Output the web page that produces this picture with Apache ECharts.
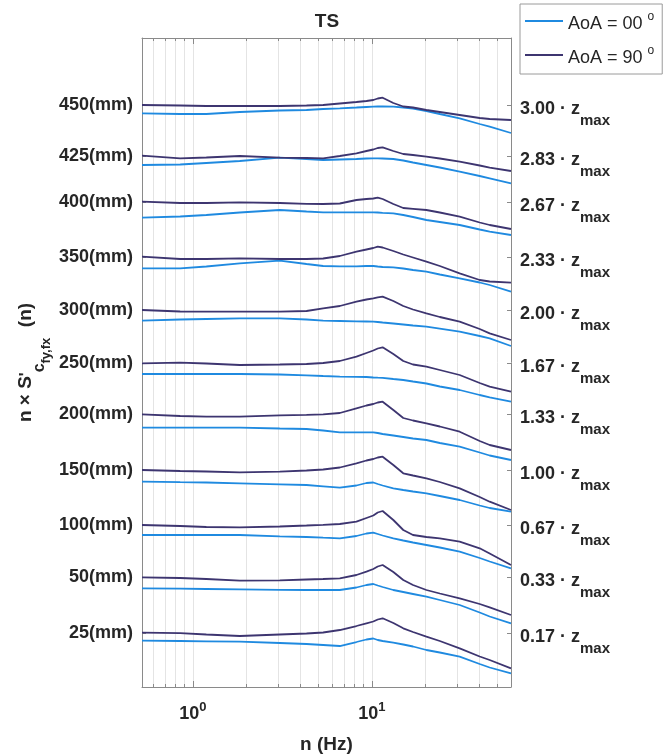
<!DOCTYPE html>
<html><head><meta charset="utf-8">
<script src="https://cdn.jsdelivr.net/npm/echarts@6/dist/echarts.min.js"></script>
<style>html,body{margin:0;padding:0;background:#fff}#c{width:664px;height:754px}</style>
</head><body><div id="c"></div>
<script>
// frequency samples (Hz)
const freqHz = [0.52, 0.85, 1.19, 1.83, 3.06, 4.32, 5.35, 6.63, 8.21, 9.34, 10.2, 10.8, 11.5, 13.2, 15.0, 17.0, 20.2, 24.0, 31.0, 40.1, 45.6, 60];
// heights, tick labels and offsets of each stacked spectrum
const heightLabels = ['450(mm)', '425(mm)', '400(mm)', '350(mm)', '300(mm)', '250(mm)', '200(mm)', '150(mm)', '100(mm)', '50(mm)', '25(mm)'];
const zRatioLabels = ['3.00', '2.83', '2.67', '2.33', '2.00', '1.67', '1.33', '1.00', '0.67', '0.33', '0.17'];
const offsets = [582, 531, 485, 430, 377, 324, 273, 217, 162, 110, 54];
const xMajorTicks = [1, 10];
const xMinorTicks = [0.6, 0.7, 0.8, 0.9, 2, 3, 4, 5, 6, 7, 8, 9, 20, 30, 40, 50];

// AoA = 00 (light blue) spectra, offset
const aoa00_h450 = [573.7, 573, 573, 575, 576.5, 577, 578, 578.7, 579.5, 580, 580.3, 580.5, 580.5, 580.3, 579.5, 578.5, 576, 573, 568.7, 563, 560.3, 554];
const aoa00_h425 = [522, 522.5, 524, 526, 529.3, 528, 527, 527.5, 528, 528.5, 528.7, 528.7, 528.5, 528, 526.5, 524.5, 522, 519.5, 515.3, 511, 508.7, 503.7];
const aoa00_h400 = [469.3, 470.5, 472, 474.5, 477, 475.5, 474.7, 474.7, 474.7, 474.7, 474.7, 474.5, 474.2, 473.7, 472, 470, 467, 465, 462, 457.5, 455.3, 452];
const aoa00_h350 = [418.7, 418.7, 420.5, 423.7, 426.3, 423, 421, 420.7, 420.7, 421, 421, 420.5, 420, 419.7, 418.5, 417, 415.3, 412.5, 408.7, 404.5, 402, 395.3];
const aoa00_h300 = [366.3, 367.5, 368, 368.7, 368.7, 367.5, 366.3, 366, 365.7, 365.5, 365.3, 365, 364.5, 363.5, 362.5, 361.5, 360.3, 358.3, 355.3, 351, 348.7, 341];
const aoa00_h250 = [313, 313, 313, 313, 312.5, 311.7, 311, 310.3, 310.2, 310, 309.5, 309.3, 309.2, 308, 307, 305.5, 303.5, 300.5, 297, 292, 289.7, 285.3];
const aoa00_h200 = [259.3, 259.3, 259.3, 259.3, 258.5, 258, 256.5, 254.7, 254.7, 254.7, 254.7, 254, 253, 251.5, 250, 248.5, 247, 244, 240.3, 234.5, 231.5, 227];
const aoa00_h150 = [205.3, 204.8, 204.5, 203.7, 202.7, 202, 200.7, 199.3, 201.5, 204, 204.5, 203, 201.5, 198.7, 197, 195.5, 193.7, 191, 187, 181.5, 179, 175.3];
const aoa00_h100 = [152, 152, 152, 152, 150.7, 150, 149.3, 148.7, 151, 153.5, 154.3, 153, 151.5, 148.7, 146.5, 144.5, 142, 139.5, 135.3, 129, 125.5, 118.7];
const aoa00_h50  = [98.7, 98.3, 98, 97.7, 97.2, 97, 97, 97, 99.5, 102, 103, 101.5, 100, 97, 95, 93, 90.3, 87, 82, 74.5, 70.5, 63.7];
const aoa00_h25  = [46.3, 46, 45.7, 45.3, 44, 43, 42, 41, 45, 47.5, 48.5, 47, 46, 44.3, 42.5, 40.5, 37, 34.5, 30.3, 23, 19.5, 13.7];

// AoA = 90 (dark) spectra, offset
const aoa90_h450 = [582, 581.5, 581, 581, 581, 581.5, 582, 583.5, 585, 586, 587, 588.5, 589.3, 584, 580.5, 579.5, 577, 575, 572, 569, 568, 567];
const aoa90_h425 = [531.3, 528.7, 529.5, 531, 529.3, 529, 528.7, 531, 533.7, 536, 537.5, 539, 539.7, 536, 533, 532, 530.3, 528.5, 525.3, 521.5, 519.3, 516];
const aoa90_h400 = [485.3, 484, 484, 484.7, 484, 483.2, 483, 483.5, 487, 488, 488.5, 489.3, 488, 483, 479, 478.2, 477, 474.5, 470.3, 464.5, 462, 458];
const aoa90_h350 = [430.3, 428, 428, 428.7, 428, 428, 428.5, 431, 435.3, 437.5, 439, 440.3, 439.5, 436, 432.5, 429.5, 425.3, 421, 413.7, 407, 405.5, 404.3];
const aoa90_h300 = [377, 375.5, 375.3, 375.3, 375.3, 376, 378.7, 381, 385.3, 387.5, 388.7, 389.7, 390.3, 386, 381, 377.5, 373.7, 370, 365.3, 358, 353.7, 347];
const aoa90_h250 = [323.7, 324.3, 323.5, 322, 322.5, 323, 324, 326, 330.3, 334, 336.5, 338.5, 339.7, 333, 326, 322.5, 320.3, 317, 312, 304, 300.3, 295.3];
const aoa90_h200 = [272.7, 271, 270.3, 270.3, 271.7, 272.2, 272.7, 274, 278.7, 281.5, 283, 284.5, 285.3, 277, 269, 266.5, 263.7, 260.5, 255.3, 246, 242, 237];
const aoa90_h150 = [217, 216, 215.5, 214.7, 215.3, 216.5, 217.5, 219.5, 223.7, 226.5, 228, 229.5, 230.3, 222, 213.7, 211.5, 208.7, 205, 198.7, 190, 185.3, 177];
const aoa90_h100 = [162, 161, 160, 159.7, 160.5, 161.5, 162.2, 163, 165.3, 169, 171.5, 174.5, 176, 167, 157, 152, 150, 148.7, 145.3, 138.7, 133.5, 122];
const aoa90_h50  = [109.7, 109, 108, 106.3, 106.7, 107.5, 108, 108.7, 112, 115.3, 118, 120.5, 122, 115, 107, 102, 97, 93.5, 88.7, 83, 79.7, 72];
const aoa90_h25  = [54.3, 53.8, 52.5, 51, 52.5, 53.5, 54.5, 57, 61, 63.7, 65.5, 67.5, 68.7, 64, 58.7, 55, 50.3, 46, 38.7, 30.5, 27, 18.7];

const aoa00 = [aoa00_h450, aoa00_h425, aoa00_h400, aoa00_h350, aoa00_h300, aoa00_h250, aoa00_h200, aoa00_h150, aoa00_h100, aoa00_h50, aoa00_h25];
const aoa90 = [aoa90_h450, aoa90_h425, aoa90_h400, aoa90_h350, aoa90_h300, aoa90_h250, aoa90_h200, aoa90_h150, aoa90_h100, aoa90_h50, aoa90_h25];

const NAME00 = 'AoA = 00', NAME90 = 'AoA = 90';
const C00 = '#1f8ae0', C90 = '#3d3570';
const TXT = '#262626';
const AX = '#8a8a8a';
const FONT = 'Liberation Sans';
const lg = v => Math.log10(v);
const xMin = lg(0.52), xMax = lg(60);

const series = [];
aoa00.forEach(arr => series.push({
  name: NAME00, type: 'line', symbol: 'none', showSymbol: false, z: 2,
  lineStyle: { color: C00, width: 1.8 }, itemStyle: { color: C00 },
  data: freqHz.map((f, i) => [lg(f), arr[i]])
}));
aoa90.forEach(arr => series.push({
  name: NAME90, type: 'line', symbol: 'none', showSymbol: false, z: 3,
  lineStyle: { color: C90, width: 1.8 }, itemStyle: { color: C90 },
  data: freqHz.map((f, i) => [lg(f), arr[i]])
}));

const baseX = {
  type: 'value', min: xMin, max: xMax, gridIndex: 0,
  axisLine: { show: false, onZero: false },
  axisLabel: { show: false }, splitLine: { show: false }, axisTick: { show: false }
};

const chart = echarts.init(document.getElementById('c'), null, { renderer: 'canvas' });
chart.setOption({
  animation: false,
  backgroundColor: '#fff',
  title: {
    text: 'TS', left: 327, top: 10, textAlign: 'center', padding: 0,
    textStyle: { fontFamily: FONT, fontWeight: 'bold', fontSize: 19, color: TXT, lineHeight: 24 }
  },
  legend: {
    data: [NAME00, NAME90], orient: 'vertical', left: 520, top: 4,
    padding: [7, 8, 7, 5], itemGap: 12, itemWidth: 38, itemHeight: 2,
    icon: 'rect',
    borderColor: '#9a9a9a', borderWidth: 1, backgroundColor: '#fff',
    selectedMode: false,
    formatter: n => '{n|' + n + ' }{s|o}',
    textStyle: {
      color: TXT, fontFamily: FONT, fontSize: 18,
      rich: {
        n: { fontFamily: FONT, fontSize: 18, lineHeight: 20, padding: [4, 0, 0, 0], verticalAlign: 'top', color: TXT },
        s: { fontFamily: FONT, fontSize: 12, lineHeight: 12, padding: [0, 0, 0, 0], verticalAlign: 'top', color: TXT }
      }
    }
  },
  grid: { left: 142, top: 38, width: 369, height: 649, containLabel: false, outerBoundsMode: 'none' },
  xAxis: [
    Object.assign({}, baseX, {
      position: 'bottom',
      axisLine: { show: true, onZero: false, lineStyle: { color: AX, width: 1 } },
      axisTick: { show: true, inside: true, length: 6, customValues: xMajorTicks.map(lg), lineStyle: { color: AX } },
      splitLine: { show: true, lineStyle: { color: '#e4e4e4', width: 1 } },
      axisLabel: {
        show: true, customValues: xMajorTicks.map(lg), margin: 12,
        formatter: v => '{b|10}{p|' + Math.round(v) + '}',
        rich: {
          b: { fontFamily: FONT, fontWeight: 'bold', fontSize: 18, lineHeight: 20, padding: [6, 0, 0, 0], verticalAlign: 'top', color: TXT },
          p: { fontFamily: FONT, fontWeight: 'bold', fontSize: 13, lineHeight: 14, padding: [2, 0, 0, 0], verticalAlign: 'top', color: TXT }
        }
      },
      name: 'n (Hz)', nameLocation: 'middle', nameGap: 47,
      nameTextStyle: { fontFamily: FONT, fontWeight: 'bold', fontSize: 19, color: TXT, lineHeight: 22 }
    }),
    Object.assign({}, baseX, {
      position: 'bottom',
      axisTick: { show: true, inside: true, length: 3, customValues: xMinorTicks.map(lg), lineStyle: { color: AX } },
      splitLine: { show: true, lineStyle: { color: '#e4e4e4', width: 1 } }
    }),
    Object.assign({}, baseX, {
      position: 'top',
      axisLine: { show: true, onZero: false, lineStyle: { color: AX, width: 1 } },
      axisTick: { show: true, inside: true, length: 3, customValues: xMinorTicks.map(lg), lineStyle: { color: AX } }
    }),
    Object.assign({}, baseX, {
      position: 'top',
      axisTick: { show: true, inside: true, length: 6, customValues: xMajorTicks.map(lg), lineStyle: { color: AX } }
    })
  ],
  yAxis: [
    {
      type: 'value', min: 0, max: 649, position: 'left',
      axisLine: { show: true, onZero: false, lineStyle: { color: AX, width: 1 } },
      axisTick: { show: true, inside: true, length: 4, customValues: offsets, lineStyle: { color: AX } },
      splitLine: { show: false },
      axisLabel: {
        show: true, customValues: offsets, margin: 9, padding: [5, 0, 0, 0],
        formatter: v => heightLabels[offsets.indexOf(v)],
        fontFamily: FONT, fontWeight: 'bold', fontSize: 18, color: TXT
      },
      name: "{b|n × S}{p|'}{c|c}{f|fy,fx}{b|  (n)}",
      nameLocation: 'middle', nameRotate: 90, nameGap: 105, nameMoveOverlap: false,
      nameTextStyle: {
        color: TXT,
        rich: {
          b: { fontFamily: FONT, fontWeight: 'bold', fontSize: 19, lineHeight: 21, padding: [0, 0, 0, 0], verticalAlign: 'top', color: TXT },
          p: { fontFamily: FONT, fontWeight: 'bold', fontSize: 16, lineHeight: 16, padding: [3, 0, 0, 0], verticalAlign: 'top', color: TXT },
          c: { fontFamily: FONT, fontWeight: 'bold', fontSize: 16, lineHeight: 16, padding: [16, 0, 0, 0], verticalAlign: 'top', color: TXT },
          f: { fontFamily: FONT, fontWeight: 'bold', fontSize: 13, lineHeight: 13, padding: [24, 0, 0, 0], verticalAlign: 'top', color: TXT }
        }
      }
    },
    {
      type: 'value', min: 0, max: 649, position: 'right',
      axisLine: { show: true, onZero: false, lineStyle: { color: AX, width: 1 } },
      axisTick: { show: true, inside: true, length: 4, customValues: offsets, lineStyle: { color: AX } },
      splitLine: { show: false },
      axisLabel: {
        show: true, customValues: offsets, margin: 9, padding: [0, 0, 6, 0],
        formatter: v => '{m|' + zRatioLabels[offsets.indexOf(v)] + ' · z}{s|max}',
        rich: {
          m: { fontFamily: FONT, fontWeight: 'bold', fontSize: 18, lineHeight: 20, padding: [8, 0, 0, 0], verticalAlign: 'top', color: TXT },
          s: { fontFamily: FONT, fontWeight: 'bold', fontSize: 15, lineHeight: 16, padding: [21, 0, 0, 0], verticalAlign: 'top', color: TXT }
        }
      }
    }
  ],
  series: series
});
</script>
</body></html>
